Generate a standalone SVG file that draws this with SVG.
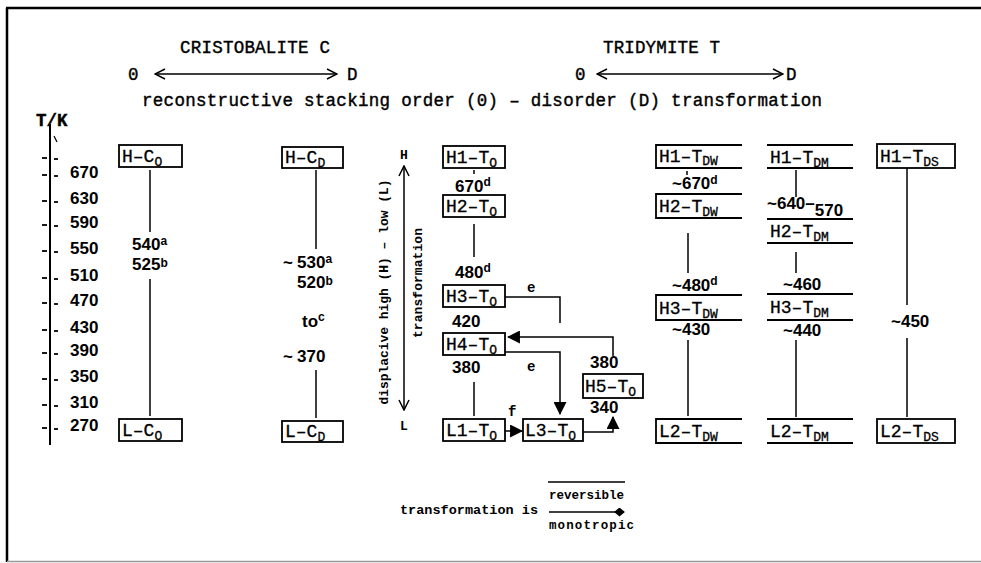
<svg xmlns="http://www.w3.org/2000/svg" width="981" height="563" viewBox="0 0 981 563">
<defs>
<style>
.hd{font-family:"Liberation Mono","DejaVu Sans Mono",monospace;font-size:17.5px;fill:#000;stroke:#000;stroke-width:0.4}
.lbl{font-family:"Liberation Mono","DejaVu Sans Mono",monospace;font-size:18px;fill:#000;stroke:#000;stroke-width:0.3}
.sb{font-size:13px}
.n{font-family:"Liberation Sans",Arial,sans-serif;font-weight:bold;font-size:17px;fill:#000}
.sp{font-size:12px}
.bt{font-family:"Liberation Mono","DejaVu Sans Mono",monospace;font-weight:bold;fill:#000}
.box{fill:none;stroke:#000;stroke-width:1.8}
.ln{fill:none;stroke:#000;stroke-width:1.5}
.tk{stroke:#000;stroke-width:1.8}
</style>
<marker id="open" viewBox="0 0 12 12" refX="11" refY="6" markerWidth="12" markerHeight="12" markerUnits="userSpaceOnUse" orient="auto-start-reverse">
<path d="M1,1 L11,6 L1,11" fill="none" stroke="#000" stroke-width="1.5"/>
</marker>
<marker id="fill" viewBox="0 0 12 12" refX="11" refY="6" markerWidth="13" markerHeight="13" markerUnits="userSpaceOnUse" orient="auto">
<path d="M0,0 L12,6 L0,12 z" fill="#000"/>
</marker>
<marker id="dia" viewBox="0 0 12 10" refX="11" refY="5" markerWidth="11" markerHeight="9" markerUnits="userSpaceOnUse" orient="auto">
<path d="M0,5 L6,0 L12,5 L6,10 z" fill="#000"/>
</marker>
</defs>
<rect width="981" height="563" fill="#fff"/>
<g id="frame">
<line x1="6" y1="8" x2="981" y2="8" stroke="#000" stroke-width="2.5"/>
<line x1="7" y1="8" x2="7" y2="562" stroke="#000" stroke-width="2.5"/>
<line x1="7" y1="561.5" x2="981" y2="561.5" stroke="#999" stroke-width="1.5"/>
</g>
<g id="headers">
<text class="hd" x="180" y="53" textLength="150">CRISTOBALITE C</text>
<text class="hd" x="128" y="80">0</text>
<text class="hd" x="347" y="80">D</text>
<text class="hd" x="603" y="53" textLength="117">TRIDYMITE T</text>
<text class="hd" x="575" y="80">0</text>
<text class="hd" x="786" y="80">D</text>
<text class="hd" x="142" y="106" textLength="680">reconstructive stacking order (0) – disorder (D) transformation</text>
</g>
<g id="axis">
<line x1="50" y1="124" x2="50" y2="445" stroke="#000" stroke-width="2"/>
<text class="hd" x="36" y="126" font-weight="bold">T/K</text>
<line x1="54" y1="136" x2="57" y2="142" stroke="#000" stroke-width="1.2"/>
<g class="tk">
<line x1="42" y1="158" x2="47" y2="158"/><line x1="54" y1="159" x2="58" y2="159"/>
<line x1="42" y1="175" x2="47" y2="175"/><line x1="54" y1="176" x2="58" y2="176"/>
<line x1="42" y1="201" x2="47" y2="201"/><line x1="54" y1="202" x2="58" y2="202"/>
<line x1="42" y1="225" x2="47" y2="225"/><line x1="54" y1="226" x2="58" y2="226"/>
<line x1="42" y1="251" x2="47" y2="251"/><line x1="54" y1="252" x2="58" y2="252"/>
<line x1="42" y1="278" x2="47" y2="278"/><line x1="54" y1="279" x2="58" y2="279"/>
<line x1="42" y1="303" x2="47" y2="303"/><line x1="54" y1="304" x2="58" y2="304"/>
<line x1="42" y1="330" x2="47" y2="330"/><line x1="54" y1="331" x2="58" y2="331"/>
<line x1="42" y1="353" x2="47" y2="353"/><line x1="54" y1="354" x2="58" y2="354"/>
<line x1="42" y1="379" x2="47" y2="379"/><line x1="54" y1="380" x2="58" y2="380"/>
<line x1="42" y1="405" x2="47" y2="405"/><line x1="54" y1="406" x2="58" y2="406"/>
<line x1="42" y1="428" x2="47" y2="428"/><line x1="54" y1="429" x2="58" y2="429"/>
</g>
<text class="n" x="70" y="178">670</text>
<text class="n" x="70" y="204">630</text>
<text class="n" x="70" y="228">590</text>
<text class="n" x="70" y="254">550</text>
<text class="n" x="70" y="281">510</text>
<text class="n" x="70" y="306">470</text>
<text class="n" x="70" y="333">430</text>
<text class="n" x="70" y="356">390</text>
<text class="n" x="70" y="382">350</text>
<text class="n" x="70" y="408">310</text>
<text class="n" x="70" y="431">270</text>
</g>
<g id="connectors">
<line class="ln" x1="155" y1="74" x2="337" y2="74" marker-start="url(#open)" marker-end="url(#open)"/>
<line class="ln" x1="597" y1="74" x2="783" y2="74" marker-start="url(#open)" marker-end="url(#open)"/>
<line class="ln" x1="150" y1="170" x2="150" y2="232"/>
<line class="ln" x1="150" y1="279" x2="150" y2="416"/>
<line class="ln" x1="316" y1="170" x2="316" y2="249"/>
<line class="ln" x1="316" y1="370" x2="316" y2="418"/>
<line class="ln" x1="404" y1="166" x2="404" y2="410" marker-start="url(#open)" marker-end="url(#open)"/>
<line class="ln" x1="474" y1="170" x2="474" y2="174"/>
<line class="ln" x1="474" y1="224" x2="474" y2="257"/>
<line class="ln" x1="474" y1="382" x2="474" y2="416"/>
<polyline class="ln" points="505,297 560,297 560,323"/>
<polyline class="ln" points="613,356 613,337 508,337" marker-end="url(#fill)"/>
<polyline class="ln" points="505,352 560,352 560,414" marker-end="url(#fill)"/>
<line class="ln" x1="505" y1="431" x2="522" y2="431" marker-end="url(#fill)"/>
<polyline class="ln" points="583,432 613,432 613,417" marker-end="url(#fill)"/>
<line class="ln" x1="687" y1="171" x2="687" y2="175"/>
<line class="ln" x1="688" y1="233" x2="688" y2="273"/>
<line class="ln" x1="688" y1="340" x2="688" y2="416"/>
<line class="ln" x1="796" y1="170" x2="796" y2="197"/>
<line class="ln" x1="796" y1="252" x2="796" y2="273"/>
<line class="ln" x1="796" y1="340" x2="796" y2="417"/>
<line class="ln" x1="907" y1="168" x2="907" y2="305"/>
<line class="ln" x1="907" y1="338" x2="907" y2="417"/>
</g>
<g id="H-CO"><rect class="box" x="119" y="145" width="63" height="22"/><text class="lbl" x="122" y="162">H–C<tspan class="sb" dy="4">O</tspan></text></g>
<g id="CO-temp"><text class="n" x="132" y="250">540<tspan class="sp" dy="-5">a</tspan></text><text class="n" x="132" y="270">525<tspan class="sp" dy="-3">b</tspan></text></g>
<g id="L-CO"><rect class="box" x="119" y="419" width="63" height="22"/><text class="lbl" x="122" y="436">L–C<tspan class="sb" dy="4">O</tspan></text></g>
<g id="H-CD"><rect class="box" x="282" y="147" width="61" height="21"/><text class="lbl" x="285" y="163">H–C<tspan class="sb" dy="4">D</tspan></text></g>
<g id="CD-temp">
<text class="n" x="283" y="268">~</text><text class="n" x="297" y="268">530<tspan class="sp" dy="-5">a</tspan></text>
<text class="n" x="297" y="288">520<tspan class="sp" dy="-3">b</tspan></text>
<text class="n" x="302" y="327">to<tspan class="sp" dy="-6">c</tspan></text>
<text class="n" x="283" y="362">~</text><text class="n" x="297" y="362">370</text>
</g>
<g id="L-CD"><rect class="box" x="282" y="421" width="61" height="21"/><text class="lbl" x="285" y="437">L–C<tspan class="sb" dy="4">D</tspan></text></g>
<g id="displacive">
<text class="bt" font-size="13" transform="translate(388,292) rotate(-90)" text-anchor="middle" textLength="225">displacive high (H) – low (L)</text>
<text class="bt" font-size="13" transform="translate(422,283) rotate(-90)" text-anchor="middle" textLength="110">transformation</text>
<text class="bt" font-size="13" x="400" y="159">H</text>
<text class="bt" font-size="13" x="400" y="430">L</text>
</g>
<g id="H1-TO"><rect class="box" x="443" y="146" width="62" height="22"/><text class="lbl" x="446" y="163">H1–T<tspan class="sb" dy="4">O</tspan></text></g>
<g id="t670"><text class="n" x="455" y="192">670<tspan class="sp" dy="-6">d</tspan></text></g>
<g id="H2-TO"><rect class="box" x="443" y="195" width="62" height="22"/><text class="lbl" x="446" y="212">H2–T<tspan class="sb" dy="4">O</tspan></text></g>
<g id="t480"><text class="n" x="455" y="278">480<tspan class="sp" dy="-6">d</tspan></text></g>
<g id="H3-TO"><rect class="box" x="443" y="285" width="62" height="22"/><text class="lbl" x="446" y="302">H3–T<tspan class="sb" dy="4">O</tspan></text></g>
<g id="t420"><text class="n" x="452" y="327">420</text></g>
<g id="H4-TO"><rect class="box" x="443" y="333" width="62" height="22"/><text class="lbl" x="446" y="350">H4–T<tspan class="sb" dy="4">O</tspan></text></g>
<g id="t380"><text class="n" x="452" y="373">380</text></g>
<g id="L1-TO"><rect class="box" x="443" y="419" width="62" height="22"/><text class="lbl" x="446" y="436">L1–T<tspan class="sb" dy="4">O</tspan></text></g>
<g id="L3-TO"><rect class="box" x="523" y="419" width="60" height="22"/><text class="lbl" x="525" y="436">L3–T<tspan class="sb" dy="4">O</tspan></text></g>
<g id="H5-TO"><rect class="box" x="583" y="374" width="60" height="24"/><text class="lbl" x="585" y="392">H5–T<tspan class="sb" dy="4">O</tspan></text>
<text class="n" x="590" y="368">380</text><text class="n" x="590" y="413">340</text></g>
<g id="edge-labels">
<text class="bt" font-size="14" x="527" y="292">e</text>
<text class="bt" font-size="14" x="527" y="371">e</text>
<text class="bt" font-size="14" x="508" y="416">f</text>
</g>
<g id="H1-TDW"><path class="box" d="M742,145 H656 V168 H742"/><text class="lbl" x="659" y="162">H1–T<tspan class="sb" dy="3">DW</tspan></text></g>
<g id="tDW670"><text class="n" x="672" y="189">~670<tspan class="sp" dy="-5">d</tspan></text></g>
<g id="H2-TDW"><path class="box" d="M742,194 H656 V218 H742"/><text class="lbl" x="659" y="212">H2–T<tspan class="sb" dy="4">DW</tspan></text></g>
<g id="tDW480"><text class="n" x="672" y="291">~480<tspan class="sp" dy="-6">d</tspan></text></g>
<g id="H3-TDW"><path class="box" d="M742,295 H656 V320 H742"/><text class="lbl" x="659" y="314">H3–T<tspan class="sb" dy="4">DW</tspan></text></g>
<g id="tDW430"><text class="n" x="672" y="335">~430</text></g>
<g id="L2-TDW"><path class="box" d="M742,419 H656 V443 H742"/><text class="lbl" x="659" y="437">L2–T<tspan class="sb" dy="4">DW</tspan></text></g>
<g id="H1-TDM"><path class="box" d="M767,145 H853 M767,168 H853"/><text class="lbl" x="770" y="163">H1–T<tspan class="sb" dy="4">DM</tspan></text></g>
<g id="tDM640"><text class="n" x="767" y="209">~640–<tspan dy="7">570</tspan></text></g>
<g id="H2-TDM"><path class="box" d="M767,219 H853 M767,243 H853"/><text class="lbl" x="770" y="237">H2–T<tspan class="sb" dy="4">DM</tspan></text></g>
<g id="tDM460"><text class="n" x="783" y="290">~460</text></g>
<g id="H3-TDM"><path class="box" d="M767,294 H853 M767,320 H853"/><text class="lbl" x="770" y="313">H3–T<tspan class="sb" dy="4">DM</tspan></text></g>
<g id="tDM440"><text class="n" x="783" y="336">~440</text></g>
<g id="L2-TDM"><path class="box" d="M767,419 H853 M767,443 H853"/><text class="lbl" x="770" y="437">L2–T<tspan class="sb" dy="4">DM</tspan></text></g>
<g id="H1-TDS"><rect class="box" x="877" y="144" width="78" height="24"/><text class="lbl" x="880" y="162">H1–T<tspan class="sb" dy="4">DS</tspan></text></g>
<g id="tDS450"><text class="n" x="891" y="327">~450</text></g>
<g id="L2-TDS"><rect class="box" x="877" y="419" width="78" height="24"/><text class="lbl" x="880" y="437">L2–T<tspan class="sb" dy="4">DS</tspan></text></g>
<g id="legend">
<text class="bt" font-size="13.5" x="400" y="514" textLength="138">transformation is</text>
<line class="ln" x1="548" y1="482" x2="625" y2="482"/>
<text class="bt" font-size="12.5" x="549" y="499" textLength="75">reversible</text>
<line class="ln" x1="549" y1="512" x2="624" y2="512" marker-end="url(#dia)"/>
<text class="bt" font-size="12.5" x="549" y="529" textLength="85">monotropic</text>
</g>
</svg>
